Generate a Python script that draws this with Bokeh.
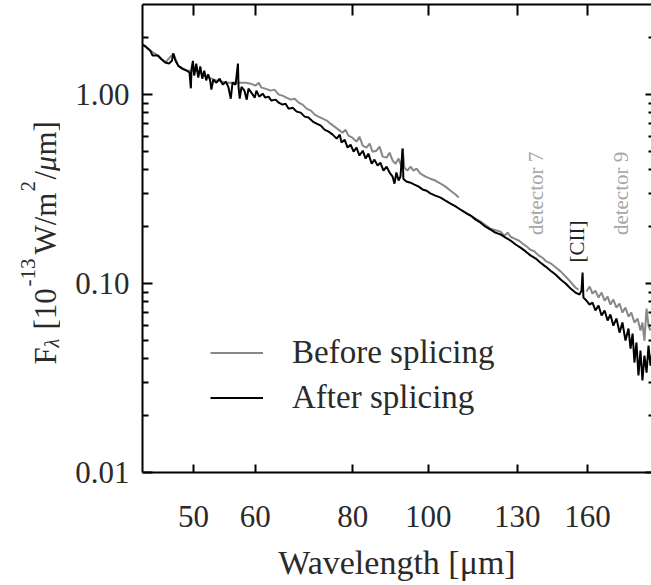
import math
from bokeh.plotting import figure
from bokeh.layouts import row
from bokeh.models import Range1d, FixedTicker, LogAxis, Label
from bokeh.embed import file_html
from bokeh.resources import INLINE

# ---------------- data ----------------
after_wl = [43.0, 43.4, 44.0, 44.3, 45.0, 45.4, 46.0, 46.5, 46.9, 47.1,
            47.4, 47.8, 48.4, 49.0, 49.4, 49.6, 49.7, 49.9, 50.1, 50.4,
            50.7, 51.0, 51.3, 51.6, 51.9, 52.2, 52.5, 52.7, 53.0, 53.5,
            54.0, 54.5, 55.0, 55.4, 55.8, 56.1, 56.6, 57.0, 57.1, 57.3,
            57.6, 58.1, 58.5, 58.8, 59.3, 59.9, 60.2, 60.7, 61.3, 61.8,
            62.4, 62.9, 63.7, 64.3, 65.0, 65.6, 66.2, 67.0, 67.8, 68.6,
            69.4, 70.2, 71.1, 71.9, 72.8, 73.6, 74.5, 75.4, 76.3, 77.0,
            77.4, 78.1, 78.8, 79.5, 80.2, 80.9, 81.6, 82.4, 83.1, 83.8,
            84.6, 85.3, 86.1, 86.8, 87.6, 88.4, 89.2, 90.0, 90.5, 91.0,
            91.6, 92.1, 92.7, 92.9, 93.7, 94.9, 96.0, 97.2, 98.3, 99.5,
            100.6, 102.1, 103.7, 105.2, 106.8, 108.4, 110.0, 111.6, 113.3, 115.0,
            116.7, 118.4, 120.2, 121.9, 123.8, 125.6, 127.5, 129.4, 131.3, 133.3,
            135.2, 137.2, 139.3, 141.4, 143.5, 145.6, 147.8, 150.0, 152.2, 154.4,
            156.3, 157.2, 157.7, 158.1, 159.5, 161.0, 162.4, 163.8, 165.3, 166.8,
            168.3, 169.8, 171.2, 172.7, 174.3, 175.9, 177.4, 179.0, 180.6, 181.7,
            182.8, 183.8, 184.9, 186.0, 187.1, 188.2, 189.3, 190.5, 191.6, 192.7,
            193.8]
after_flux = [1.84, 1.80, 1.71, 1.61, 1.61, 1.55, 1.48, 1.46, 1.51, 1.65,
              1.51, 1.42, 1.37, 1.34, 1.31, 1.08, 1.37, 1.51, 1.26, 1.46,
              1.23, 1.41, 1.215, 1.34, 1.19, 1.28, 1.19, 1.063, 1.20, 1.157,
              1.215, 1.13, 1.17, 1.10, 0.952, 1.157, 1.13, 1.46, 1.10, 0.952,
              1.10, 1.05, 0.941, 1.076, 1.025, 0.964, 1.05, 0.976, 1.012, 0.964,
              0.976, 0.93, 0.941, 0.907, 0.885, 0.896, 0.843, 0.853, 0.813, 0.803,
              0.765, 0.756, 0.72, 0.702, 0.686, 0.653, 0.637, 0.614, 0.585, 0.614,
              0.557, 0.578, 0.524, 0.544, 0.499, 0.524, 0.476, 0.505, 0.459, 0.487,
              0.431, 0.453, 0.421, 0.437, 0.396, 0.416, 0.387, 0.368, 0.338, 0.387,
              0.351, 0.368, 0.518, 0.359, 0.347, 0.342, 0.334, 0.326, 0.315, 0.310,
              0.300, 0.292, 0.285, 0.275, 0.265, 0.256, 0.246, 0.237, 0.229, 0.218,
              0.210, 0.200, 0.193, 0.186, 0.182, 0.175, 0.169, 0.161, 0.155, 0.148,
              0.141, 0.136, 0.129, 0.123, 0.117, 0.1116, 0.105, 0.100, 0.0941, 0.0896,
              0.0875, 0.0918, 0.1143, 0.0843, 0.0813, 0.0774, 0.0793, 0.072, 0.0765, 0.0677,
              0.072, 0.0637, 0.0686, 0.0599, 0.0653, 0.055, 0.0622, 0.0499, 0.0578, 0.0453,
              0.0544, 0.0382, 0.0487, 0.0326, 0.0442, 0.0307, 0.0416, 0.0338, 0.047, 0.0368,
              0.0442]

# "Before splicing": three detector segments
before_wl_a = [43.0, 44.0, 45.0, 46.0, 47.1, 47.8, 49.0, 50.4, 51.9, 53.5, 55.1, 56.8,
               58.3, 59.2, 60.0, 60.6, 61.1, 61.8, 62.8, 63.5, 64.3, 65.0, 65.8, 66.6,
               67.4, 68.2, 69.0, 69.8, 70.7, 71.5, 72.3, 73.2, 74.1, 74.9, 75.8, 76.7,
               77.6, 78.3, 79.0, 79.9, 80.9, 81.6, 82.4, 83.3, 84.1, 84.8, 85.8, 86.6,
               87.4, 88.4, 89.2, 90.0, 90.8, 91.6, 92.4, 92.7, 93.2, 94.0, 94.9, 95.7,
               96.6, 97.7, 99.2, 100.6, 102.1, 103.7, 105.2, 106.8, 108.4, 109.4]
before_flux_a = [1.84, 1.71, 1.61, 1.48, 1.65, 1.42, 1.34, 1.34, 1.245, 1.19, 1.157, 1.157,
                 1.157, 1.143, 1.116, 1.157, 1.089, 1.076, 1.05, 1.063, 1.0, 0.988, 0.964, 0.941,
                 0.952, 0.907, 0.885, 0.843, 0.823, 0.784, 0.765, 0.746, 0.729, 0.702, 0.677, 0.653,
                 0.629, 0.653, 0.607, 0.592, 0.564, 0.599, 0.537, 0.524, 0.551, 0.499, 0.505, 0.531,
                 0.47, 0.464, 0.493, 0.447, 0.431, 0.459, 0.416, 0.518, 0.411, 0.396, 0.416, 0.396,
                 0.406, 0.382, 0.368, 0.359, 0.351, 0.338, 0.326, 0.310, 0.296, 0.285]
before_wl_b = [110.6, 113.3, 116.7, 120.2, 123.8, 125.2, 126.4, 127.5, 129.0, 130.6, 132.1, 133.7,
               135.2, 136.8, 138.5, 140.1, 141.7, 143.5, 145.6, 147.8, 150.0, 152.2, 154.4, 155.8]
before_flux_b = [0.243, 0.229, 0.213, 0.195, 0.188, 0.179, 0.186, 0.177, 0.173, 0.169, 0.163, 0.157,
                 0.151, 0.148, 0.141, 0.137, 0.131, 0.128, 0.122, 0.116, 0.109, 0.102, 0.0953, 0.0929]
before_wl_c = [159.5, 161.0, 162.4, 163.8, 165.3, 166.8, 168.3, 169.8, 171.2, 172.7, 174.3, 175.9,
               177.4, 179.0, 180.6, 182.1, 183.8, 185.5, 187.1, 188.2, 189.3, 190.5, 191.6, 192.7]
before_flux_c = [0.0908, 0.0964, 0.0886, 0.0918, 0.0843, 0.0896, 0.0813, 0.0853, 0.0774, 0.0823,
                 0.0746, 0.0784, 0.0702, 0.0746, 0.0669, 0.0702, 0.0622, 0.0653, 0.0564, 0.0622,
                 0.0499, 0.0737, 0.0599, 0.0564]

x_ticks = [50, 60, 80, 100, 130, 160]
y_ticks = [0.01, 0.1, 1.0]
y_tick_labels = {0.01: "0.01", 0.1: "0.10", 1.0: "1.00"}
y_minor = [0.02, 0.03, 0.04, 0.05, 0.06, 0.07, 0.08, 0.09,
           0.2, 0.3, 0.4, 0.5, 0.6, 0.7, 0.8, 0.9, 2.0]

SERIF = "Liberation Serif"
TXT = "#2a2a2a"
GRAY = "#888888"
LABEL_W = 60

p = figure(width=651 - LABEL_W, height=585, x_axis_type="log", y_axis_type="log",
           x_range=Range1d(43.0, 193.3), y_range=Range1d(0.01, 3.0),
           output_backend="svg", toolbar_location=None,
           min_border_left=142 - LABEL_W, min_border_right=0, min_border_top=4,
           min_border_bottom=113)
p.outline_line_color = None
p.grid.visible = False
p.background_fill_color = "white"
p.border_fill_color = "white"

xt = FixedTicker(ticks=x_ticks, minor_ticks=[])
yt = FixedTicker(ticks=y_ticks, minor_ticks=y_minor)

xa = p.xaxis[0]
xa.ticker = xt
xa.major_label_overrides = {v: str(v) for v in x_ticks}
xa.axis_label = "Wavelength [μm]"
ya = p.yaxis[0]
ya.ticker = yt
ya.major_label_overrides = y_tick_labels

for ax in (xa, ya):
    ax.axis_line_width = 2
    ax.axis_line_color = "black"
    ax.major_tick_line_width = 2
    ax.minor_tick_line_width = 2
    ax.major_tick_out = 0
    ax.minor_tick_out = 0
    ax.major_label_text_font = SERIF
    ax.major_label_text_font_size = "31px"
    ax.major_label_text_color = TXT
    ax.axis_label_text_font = SERIF
    ax.axis_label_text_font_size = "34px"
    ax.axis_label_text_font_style = "normal"
    ax.axis_label_text_color = TXT
xa.major_tick_in = 8
xa.major_label_standoff = 33
xa.axis_label_standoff = 14
ya.major_tick_in = 10
ya.minor_tick_in = 6
ya.major_label_standoff = 13

top = LogAxis(ticker=FixedTicker(ticks=x_ticks, minor_ticks=[]),
              major_label_overrides={v: "" for v in x_ticks},
              major_label_text_font_size="1px", major_label_standoff=0,
              axis_line_width=2, major_tick_line_width=2,
              major_tick_in=11, major_tick_out=0, minor_tick_out=0, minor_tick_in=0)
p.add_layout(top, "above")
right = LogAxis(ticker=FixedTicker(ticks=y_ticks, minor_ticks=y_minor),
                major_label_overrides={v: "" for v in y_ticks},
                major_label_text_font_size="1px", major_label_standoff=0,
                axis_line_color=None, major_tick_line_width=2, minor_tick_line_width=2,
                major_tick_in=6, major_tick_out=0, minor_tick_in=3, minor_tick_out=0)
p.add_layout(right, "right")

# spectra
p.line(before_wl_a, before_flux_a, line_color=GRAY, line_width=2, legend_label="Before splicing")
p.line(before_wl_b, before_flux_b, line_color=GRAY, line_width=2)
p.line(before_wl_c, before_flux_c, line_color=GRAY, line_width=2)
p.line(after_wl, after_flux, line_color="black", line_width=2, legend_label="After splicing")

lg = p.legend[0]
lg.location = (68, 52)
lg.border_line_color = None
lg.background_fill_alpha = 0
lg.padding = 0
lg.margin = 0
lg.spacing = 0
lg.glyph_width = 53
lg.glyph_height = 45
lg.label_height = 45
lg.label_standoff = 29
lg.label_text_font = SERIF
lg.label_text_font_size = "33px"
lg.label_text_color = TXT

# annotations
p.add_layout(Label(x=137.6, y=0.30, text="detector 7", angle=math.pi / 2,
                   text_align="center", text_baseline="middle", text_font=SERIF,
                   text_font_size="21px", text_color="#a6a6a6"))
p.add_layout(Label(x=176.4, y=0.30, text="detector 9", angle=math.pi / 2,
                   text_align="center", text_baseline="middle", text_font=SERIF,
                   text_font_size="21px", text_color="#a6a6a6"))
p.add_layout(Label(x=155.3, y=0.167, text="[CII]", angle=math.pi / 2,
                   text_align="center", text_baseline="middle", text_font=SERIF,
                   text_font_size="21px", text_color="#222222"))

# y-axis title, composed in a narrow strip to the left of the plot
# (the strip's frame is aligned with the main frame: y measured up from its bottom)
lab = figure(width=LABEL_W, height=585, x_range=Range1d(0, 1), y_range=Range1d(0, 1),
             x_axis_location=None, y_axis_location=None, output_backend="svg",
             toolbar_location=None, min_border_left=0, min_border_right=0,
             min_border_top=0, min_border_bottom=0)
lab.outline_line_color = None
lab.grid.visible = False


def ylab(txt, x, y, size, style="normal"):
    lab.add_layout(Label(x=x, y=y, x_units="screen", y_units="screen", text=txt,
                         angle=math.pi / 2, text_align="left", text_baseline="alphabetic",
                         text_font=SERIF, text_font_size=size, text_font_style=style,
                         text_color=TXT))


ylab("F", 45, 108, "31px")
ylab("λ", 51, 125, "20px", "italic")
ylab("[10", 45, 143, "31px")
ylab("-13", 27, 186, "21px")
ylab("W/m", 45, 218, "31px")
ylab("2", 27, 281, "21px")
ylab("/", 45, 293, "31px")
ylab("μ", 45, 301, "31px", "italic")
ylab("m]", 45, 317, "31px")

layout = row(lab, p)
open("out.html", "w").write(file_html(layout, INLINE))
